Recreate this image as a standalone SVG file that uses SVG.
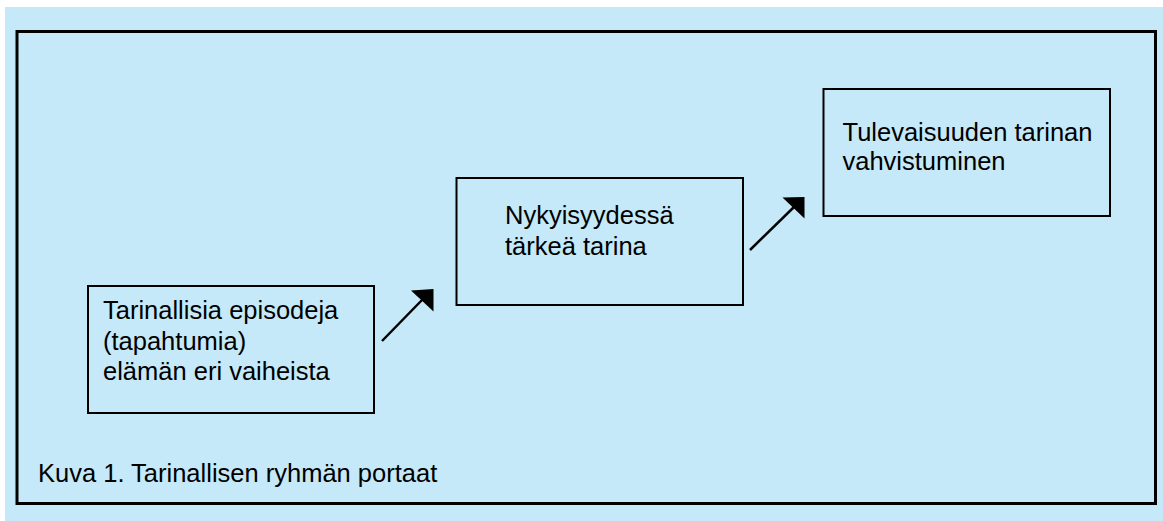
<svg xmlns="http://www.w3.org/2000/svg" width="1163" height="521" viewBox="0 0 1163 521">
<style>
.bg{fill:#c5e9f8}
.frame{fill:none;stroke:#000;stroke-width:3}
.box{fill:#c5e9f8;stroke:#000;stroke-width:2}
.t{font-family:"Liberation Sans",Arial,sans-serif;font-size:25.5px;fill:#000}
.conn{stroke:#000;stroke-width:2.5;fill:none}
.head{fill:#000}
</style>
<rect x="0" y="0" width="1163" height="521" fill="#fff"/>
<rect class="bg" x="5" y="7" width="1158" height="514"/>
<rect class="frame" x="17" y="31.5" width="1138.5" height="472"/>
<g id="node1">
<rect class="box" x="88" y="286" width="286" height="127"/>
<text class="t" x="103" y="319">Tarinallisia episodeja</text>
<text class="t" x="103" y="350">(tapahtumia)</text>
<text class="t" x="103" y="380">elämän eri vaiheista</text>
</g>
<g id="node2">
<rect class="box" x="456.5" y="178" width="286.5" height="127"/>
<text class="t" x="505" y="224">Nykyisyydessä</text>
<text class="t" x="505" y="255">tärkeä tarina</text>
</g>
<g id="node3">
<rect class="box" x="823.5" y="89" width="286.5" height="127"/>
<text class="t" x="842.5" y="141">Tulevaisuuden tarinan</text>
<text class="t" x="842.5" y="170">vahvistuminen</text>
</g>
<g id="caption">
<text class="t" x="38" y="482">Kuva 1. Tarinallisen ryhmän portaat</text>
</g>
<g id="connectors">
<line class="conn" x1="382" y1="341" x2="422" y2="300"/>
<polygon class="head" points="411,290.5 433.5,289 433.5,311.5"/>
<line class="conn" x1="750" y1="250" x2="794" y2="207"/>
<polygon class="head" points="782.5,197.5 804.5,197 804.5,218.5"/>
</g>
</svg>
